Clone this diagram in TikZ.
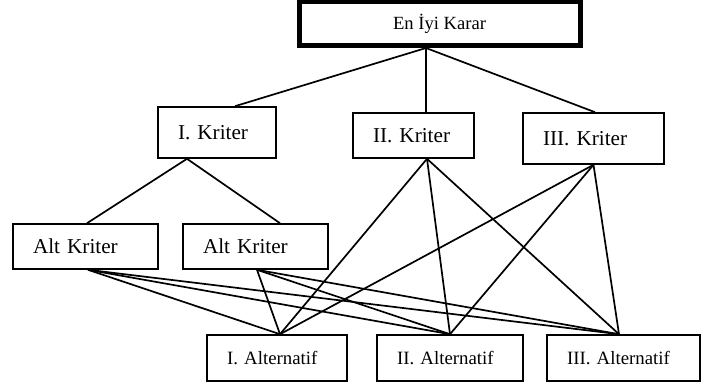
\documentclass[tikz,border=0pt]{standalone}
\usepackage{fontspec}
\setmainfont{Liberation Serif}

\tikzset{
  ana/.style={draw, line width=5pt, minimum width=281pt, minimum height=43.5pt, inner sep=0pt, font=\fontsize{18.6}{22}\selectfont},
  kriter/.style={draw, line width=1.6pt, inner xsep=20pt, inner ysep=0pt, align=left, font=\fontsize{21.2}{25}\selectfont},
  secenek/.style={kriter, font=\fontsize{18.8}{22}\selectfont},
  bag/.style={line width=1.7pt},
}

\begin{document}
\begin{tikzpicture}[x=1pt, y=-1pt]
			\useasboundingbox (0,0) rectangle (701,385);
			% Goal
			\node[ana] (karar) at (439.5,23.75) {En İyi Karar};

			% Criteria
			\node[kriter, text width=78pt, minimum height=51pt] (k1) at (217,132.5) {I. Kriter};
			\node[kriter, text width=81pt, minimum height=45pt] (k2) at (413.5,135.5) {II. Kriter};
			\node[kriter, text width=101pt, minimum height=51pt] (k3) at (593.5,138.5) {III. Kriter};

			% Sub criteria
			\node[kriter, text width=105pt, minimum height=45pt] (a1) at (85.5,246.5) {Alt Kriter};
			\node[kriter, text width=105pt, minimum height=45pt] (a2) at (255.5,246.5) {Alt Kriter};

			% Alternatives
			\node[secenek, text width=100pt, minimum height=46pt] (s1) at (277,358) {I. Alternatif};
			\node[secenek, text width=106pt, minimum height=46pt] (s2) at (450,358) {II. Alternatif};
			\node[secenek, text width=113pt, minimum height=46pt] (s3) at (623.5,358) {III. Alternatif};

			% Goal to criteria
			\draw[bag] ([xshift=-13.5pt]karar.south) -- ([xshift=18pt]k1.north);
			\draw[bag] ([xshift=-13.5pt]karar.south) -- ([xshift=12.5pt]k2.north);
			\draw[bag] ([xshift=-13.5pt]karar.south) -- ([xshift=1.5pt]k3.north);

			% Criterion to sub criteria
			\draw[bag] ([xshift=-30pt]k1.south) -- ([xshift=1.5pt]a1.north);
			\draw[bag] ([xshift=-30pt]k1.south) -- ([xshift=24.5pt]a2.north);

			% Every leaf criterion to every alternative
			\foreach \kaynak/\dx in {a1/2.5, a2/1.5, k2/13.5, k3/0}
			\foreach \hedef/\dy in {s1/3, s2/0, s3/-4.5}
			\draw[bag] ([xshift=\dx pt]\kaynak.south) -- ([xshift=\dy pt]\hedef.north);
		\end{tikzpicture}
\end{document}
